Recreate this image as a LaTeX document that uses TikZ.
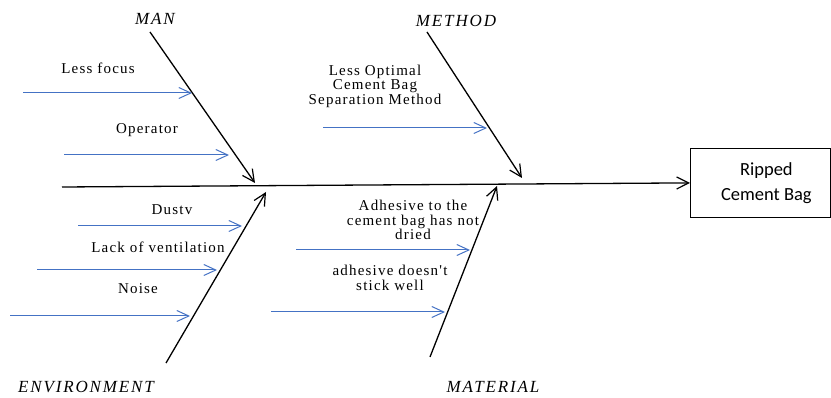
\documentclass[tikz,border=0pt]{standalone}
\usepackage{fontspec}
\setmainfont{Liberation Serif}
\newfontfamily\boxfont{Carlito}
\newfontfamily\lblfont{Liberation Serif}[LetterSpace=8]
\newfontfamily\catfont{Liberation Serif}[LetterSpace=11]
\usetikzlibrary{arrows.meta}
\definecolor{causeblue}{RGB}{68,114,196}
\tikzset{
  bone/.style={draw=black,line width=1.3pt,-{Straight Barb[length=12pt,width=12pt,line width=1.2pt]}},
  cause/.style={draw=causeblue,line width=1pt,-{Straight Barb[length=12pt,width=11pt,line width=1pt]}},
  cat/.style={font=\catfont\itshape\fontsize{17}{19}\selectfont,inner sep=0pt},
  lbl/.style={font=\lblfont\fontsize{15}{14.5}\selectfont,inner sep=0pt,align=center},
  effect/.style={draw=black,line width=0.8pt,minimum width=140pt,minimum height=69pt},
  efftext/.style={align=center,inner sep=0pt,font=\boxfont\fontsize{18.5}{25}\selectfont}
}
\begin{document}
\begin{tikzpicture}[x=1pt,y=-1pt]
\useasboundingbox (0,0) rectangle (831,398);
% effect
\node[effect,anchor=north west] (eff) at (690,148) {};
\node[efftext] (efft) at ([xshift=6pt]eff.center) {Ripped\\Cement Bag};
\coordinate (spineS) at (62,187);
\draw[bone] (spineS) -- (eff.west);
% MAN
\node[cat] (man) at (155,19) {MAN};
\coordinate (manS) at (150,32);
\coordinate (manE) at (255,183);
\draw[bone] (manS) -- (manE);
\node[lbl] (lf) at (98,68) {Less focus};
\coordinate (lfS) at (23,93); \coordinate (lfE) at (192,93);
\draw[cause] (lfS) -- (lfE);
\node[lbl] (op) at (147,130) {Operator};
\coordinate (opS) at (64,155); \coordinate (opE) at (229,155);
\draw[cause] (opS) -- (opE);
% METHOD
\node[cat] (meth) at (456,21) {METHOD};
\coordinate (methS) at (427,32);
\coordinate (methE) at (522,178);
\draw[bone] (methS) -- (methE);
\node[lbl] (lo) at (375,86) {Less Optimal\\Cement Bag\\Separation Method};
\coordinate (loS) at (323,128); \coordinate (loE) at (487,128);
\draw[cause] (loS) -- (loE);
% ENVIRONMENT
\node[cat] (env) at (86,387) {ENVIRONMENT};
\coordinate (envS) at (166,363);
\coordinate (envE) at (266,192);
\draw[bone] (envS) -- (envE);
\node[lbl] (du) at (172,210) {Dustv};
\coordinate (duS) at (78,226); \coordinate (duE) at (242,226);
\draw[cause] (duS) -- (duE);
\node[lbl] (lv) at (158,247) {Lack of ventilation};
\coordinate (lvS) at (37,270); \coordinate (lvE) at (217,270);
\draw[cause] (lvS) -- (lvE);
\node[lbl] (no) at (138,289) {Noise};
\coordinate (noS) at (10,316); \coordinate (noE) at (190,316);
\draw[cause] (noS) -- (noE);
% MATERIAL
\node[cat] (mat) at (493,387) {MATERIAL};
\coordinate (matS) at (430,357);
\coordinate (matE) at (497,186);
\draw[bone] (matS) -- (matE);
\node[lbl] (ad) at (413,220) {Adhesive to the\\cement bag has not\\dried};
\coordinate (adS) at (296,250); \coordinate (adE) at (470,250);
\draw[cause] (adS) -- (adE);
\node[lbl] (ds) at (390,278) {adhesive doesn't\\stick well};
\coordinate (dsS) at (271,312); \coordinate (dsE) at (445,312);
\draw[cause] (dsS) -- (dsE);
\end{tikzpicture}
\end{document}
